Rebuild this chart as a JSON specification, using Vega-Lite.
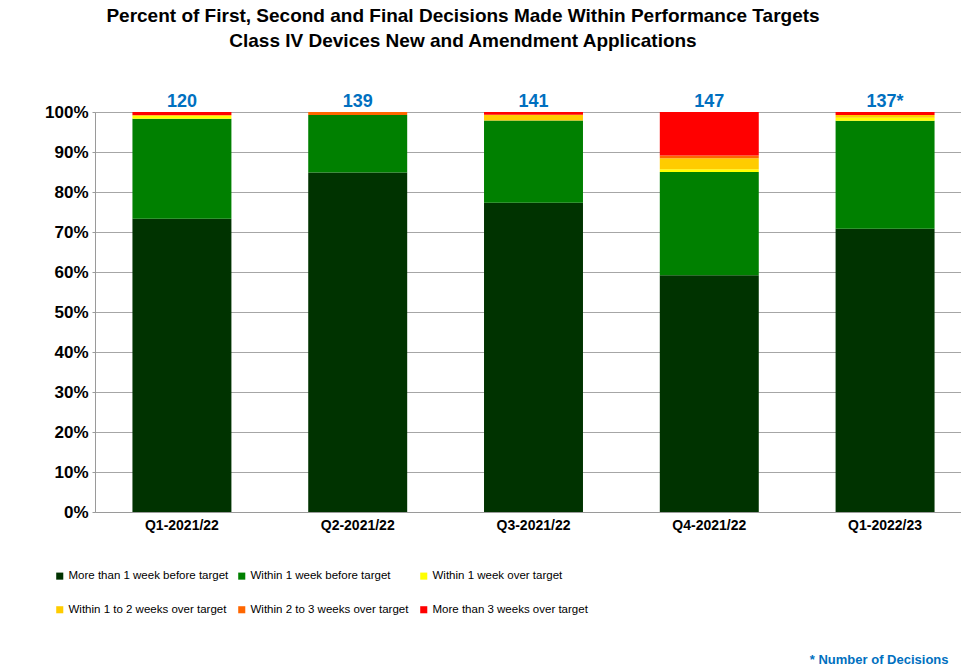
{
  "$schema": "https://vega.github.io/schema/vega-lite/v6.json",
  "autosize": {"type": "none"},
  "padding": {"left": 95, "top": 112, "right": 0, "bottom": 157},
  "width": 866,
  "height": 400,
  "background": "white",
  "config": {
    "axisY": {
      "values": [0, 0.1, 0.2, 0.3, 0.4, 0.5, 0.6, 0.7, 0.8, 0.9, 1],
      "format": ".0%",
      "labelFont": "Liberation Sans",
      "labelFontSize": 17,
      "labelFontWeight": "bold",
      "labelColor": "black",
      "labelPadding": 4,
      "labelOverlap": false,
      "tickSize": 3,
      "tickColor": "#9a9a9a",
      "domainColor": "#9a9a9a",
      "gridColor": "#a6a6a6",
      "gridWidth": 1,
      "title": null
    }
  },
  "title": {
    "text": ["Percent of First, Second and Final Decisions Made Within Performance  Targets", "Class IV Devices New and Amendment Applications"],
    "font": "Liberation Sans Narrow, Liberation Sans",
    "fontSize": 19,
    "fontWeight": "bold",
    "color": "black",
    "lineHeight": 25,
    "anchor": "middle",
    "dx": -65,
    "offset": 42
  },
  "datasets": {
    "bars": [
      {"quarter": "Q1-2021/22", "cat": "More than 1 week before target", "ord": 1, "pct": 0.7333},
      {"quarter": "Q1-2021/22", "cat": "Within 1 week before target", "ord": 2, "pct": 0.25},
      {"quarter": "Q1-2021/22", "cat": "Within 1 week over target", "ord": 3, "pct": 0.0083},
      {"quarter": "Q1-2021/22", "cat": "Within 1 to 2 weeks over target", "ord": 4, "pct": 0.0},
      {"quarter": "Q1-2021/22", "cat": "Within 2 to 3 weeks over target", "ord": 5, "pct": 0.0},
      {"quarter": "Q1-2021/22", "cat": "More than 3 weeks over target", "ord": 6, "pct": 0.0084},
      {"quarter": "Q2-2021/22", "cat": "More than 1 week before target", "ord": 1, "pct": 0.8489},
      {"quarter": "Q2-2021/22", "cat": "Within 1 week before target", "ord": 2, "pct": 0.1439},
      {"quarter": "Q2-2021/22", "cat": "Within 1 week over target", "ord": 3, "pct": 0.0},
      {"quarter": "Q2-2021/22", "cat": "Within 1 to 2 weeks over target", "ord": 4, "pct": 0.0},
      {"quarter": "Q2-2021/22", "cat": "Within 2 to 3 weeks over target", "ord": 5, "pct": 0.0072},
      {"quarter": "Q2-2021/22", "cat": "More than 3 weeks over target", "ord": 6, "pct": 0.0},
      {"quarter": "Q3-2021/22", "cat": "More than 1 week before target", "ord": 1, "pct": 0.7730},
      {"quarter": "Q3-2021/22", "cat": "Within 1 week before target", "ord": 2, "pct": 0.2057},
      {"quarter": "Q3-2021/22", "cat": "Within 1 week over target", "ord": 3, "pct": 0.0},
      {"quarter": "Q3-2021/22", "cat": "Within 1 to 2 weeks over target", "ord": 4, "pct": 0.0142},
      {"quarter": "Q3-2021/22", "cat": "Within 2 to 3 weeks over target", "ord": 5, "pct": 0.0},
      {"quarter": "Q3-2021/22", "cat": "More than 3 weeks over target", "ord": 6, "pct": 0.0071},
      {"quarter": "Q4-2021/22", "cat": "More than 1 week before target", "ord": 1, "pct": 0.5918},
      {"quarter": "Q4-2021/22", "cat": "Within 1 week before target", "ord": 2, "pct": 0.2585},
      {"quarter": "Q4-2021/22", "cat": "Within 1 week over target", "ord": 3, "pct": 0.0068},
      {"quarter": "Q4-2021/22", "cat": "Within 1 to 2 weeks over target", "ord": 4, "pct": 0.0272},
      {"quarter": "Q4-2021/22", "cat": "Within 2 to 3 weeks over target", "ord": 5, "pct": 0.0068},
      {"quarter": "Q4-2021/22", "cat": "More than 3 weeks over target", "ord": 6, "pct": 0.1089},
      {"quarter": "Q1-2022/23", "cat": "More than 1 week before target", "ord": 1, "pct": 0.7080},
      {"quarter": "Q1-2022/23", "cat": "Within 1 week before target", "ord": 2, "pct": 0.2701},
      {"quarter": "Q1-2022/23", "cat": "Within 1 week over target", "ord": 3, "pct": 0.0073},
      {"quarter": "Q1-2022/23", "cat": "Within 1 to 2 weeks over target", "ord": 4, "pct": 0.0073},
      {"quarter": "Q1-2022/23", "cat": "Within 2 to 3 weeks over target", "ord": 5, "pct": 0.0},
      {"quarter": "Q1-2022/23", "cat": "More than 3 weeks over target", "ord": 6, "pct": 0.0073}
    ],
    "counts": [
      {"quarter": "Q1-2021/22", "label": "120"},
      {"quarter": "Q2-2021/22", "label": "139"},
      {"quarter": "Q3-2021/22", "label": "141"},
      {"quarter": "Q4-2021/22", "label": "147"},
      {"quarter": "Q1-2022/23", "label": "137*"}
    ]
  },
  "encoding": {
    "x": {
      "field": "quarter",
      "type": "nominal",
      "sort": ["Q1-2021/22", "Q2-2021/22", "Q3-2021/22", "Q4-2021/22", "Q1-2022/23"],
      "scale": {"range": [0, 877], "paddingInner": 0.437, "paddingOuter": 0.213},
      "axis": {
        "title": "* Number of Decisions",
        "titleFont": "Liberation Sans Narrow, Liberation Sans",
        "titleFontSize": 13,
        "titleFontWeight": "bold",
        "titleColor": "#0070C0",
        "titleAnchor": "end",
        "titleAlign": "right",
        "titleBaseline": "alphabetic",
        "titleX": 853,
        "titleY": 151,
        "labelAngle": 0,
        "labelFont": "Liberation Sans",
        "labelFontSize": 14,
        "labelFontWeight": "bold",
        "labelColor": "black",
        "labelPadding": 6,
        "ticks": false,
        "domainColor": "#9a9a9a",
        "grid": false
      }
    }
  },
  "layer": [
    {
      "data": {"name": "bars"},
      "mark": {"type": "bar"},
      "encoding": {
        "y": {
          "field": "pct",
          "type": "quantitative",
          "stack": "zero",
          "scale": {"domain": [0, 1], "nice": false}
        },
        "color": {
          "field": "cat",
          "type": "nominal",
          "scale": {
            "domain": ["More than 1 week before target", "Within 1 week before target", "Within 1 week over target", "Within 1 to 2 weeks over target", "Within 2 to 3 weeks over target", "More than 3 weeks over target"],
            "range": ["#003300", "#008000", "#FFFF00", "#FFCC00", "#FF6600", "#FF0000"]
          },
          "legend": {
            "title": null,
            "orient": "none",
            "legendX": -41,
            "legendY": 458,
            "direction": "horizontal",
            "columns": 3,
            "gridAlign": "all",
            "columnPadding": 7,
            "rowPadding": 21,
            "symbolType": "square",
            "symbolSize": 50,
            "symbolStrokeWidth": 0,
            "labelFont": "Liberation Sans Narrow, Liberation Sans",
            "labelFontSize": 11.5,
            "labelColor": "black",
            "labelOffset": 3,
            "labelLimit": 300
          }
        },
        "order": {"field": "ord", "type": "quantitative"}
      }
    },
    {
      "data": {"name": "counts"},
      "mark": {
        "type": "text",
        "font": "Liberation Sans",
        "fontSize": 18,
        "fontWeight": "bold",
        "color": "#0070C0",
        "baseline": "alphabetic",
        "dy": -5
      },
      "encoding": {
        "y": {"datum": 1, "type": "quantitative", "scale": {"domain": [0, 1], "nice": false}},
        "text": {"field": "label"}
      }
    }
  ]
}
